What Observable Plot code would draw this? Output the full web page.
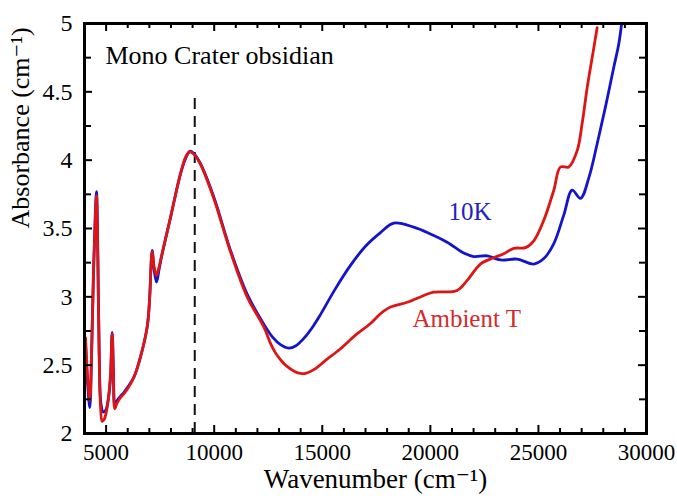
<!DOCTYPE html>
<html>
<head>
<meta charset="utf-8">
<script src="https://cdn.jsdelivr.net/npm/d3@7"></script>
<script src="https://cdn.jsdelivr.net/npm/@observablehq/plot@0.6"></script>
<style>
  html, body { margin: 0; padding: 0; background: #ffffff; }
</style>
</head>
<body>
<div id="chart"></div>
<script>
// ---- data ----
const wavenumber10K = [4050, 4150, 4245, 4330, 4420, 4500, 4555, 4610, 4680, 4760, 4864, 4980, 5100, 5200, 5280, 5340, 5403, 5500, 5650, 5818, 6000, 6281, 6590, 6900, 7007, 7131, 7220, 7331, 7450, 7594, 7978, 8441, 8700, 8872, 9050, 9366, 9982, 10754, 11525, 12295, 12700, 13067, 13437, 13761, 14223, 14600, 14917, 15611, 16305, 16999, 17693, 18309, 19234, 20005, 20776, 21547, 22010, 22626, 23244, 24015, 24786, 25249, 25712, 26175, 26561, 26946, 27331, 27718, 28102, 28486, 28717, 28850];
const absorbance10K = [2.65, 2.35, 2.19, 2.6, 3.2, 3.6, 3.77, 3.4, 2.6, 2.22, 2.157, 2.17, 2.25, 2.4, 2.74, 2.45, 2.21, 2.24, 2.27, 2.30, 2.34, 2.41, 2.56, 2.78, 2.97, 3.34, 3.2, 3.107, 3.2, 3.315, 3.58, 3.90, 4.02, 4.065, 4.05, 3.974, 3.73, 3.34, 3.02, 2.80, 2.705, 2.65, 2.625, 2.64, 2.71, 2.79, 2.87, 3.06, 3.23, 3.37, 3.47, 3.539, 3.51, 3.46, 3.40, 3.32, 3.295, 3.30, 3.27, 3.276, 3.24, 3.28, 3.39, 3.60, 3.78, 3.72, 3.87, 4.12, 4.39, 4.68, 4.85, 5.0];

const wavenumberAmbient = [4050, 4150, 4245, 4330, 4420, 4500, 4555, 4610, 4680, 4740, 4817, 4900, 5000, 5100, 5200, 5280, 5340, 5403, 5500, 5650, 5818, 6000, 6281, 6590, 6900, 7007, 7131, 7220, 7331, 7450, 7594, 7978, 8441, 8700, 8872, 9050, 9366, 9982, 10754, 11525, 12295, 12604, 12836, 13067, 13299, 13761, 13992, 14223, 14686, 15149, 15843, 16536, 17230, 17693, 18156, 18928, 19696, 20159, 21241, 21704, 22319, 22934, 23397, 23860, 24401, 24786, 25248, 25711, 26020, 26404, 26793, 27024, 27255, 27486, 27718];
const absorbanceAmbient = [2.70, 2.40, 2.24, 2.6, 3.2, 3.58, 3.74, 3.35, 2.55, 2.2, 2.089, 2.10, 2.15, 2.25, 2.42, 2.73, 2.42, 2.18, 2.22, 2.26, 2.29, 2.33, 2.41, 2.56, 2.78, 2.97, 3.33, 3.22, 3.156, 3.22, 3.32, 3.58, 3.90, 4.03, 4.06, 4.045, 3.97, 3.72, 3.33, 3.00, 2.78, 2.66, 2.59, 2.54, 2.50, 2.45, 2.44, 2.44, 2.475, 2.535, 2.62, 2.72, 2.805, 2.876, 2.925, 2.96, 3.01, 3.034, 3.047, 3.12, 3.24, 3.286, 3.315, 3.355, 3.36, 3.41, 3.56, 3.78, 3.95, 3.95, 4.07, 4.27, 4.53, 4.75, 4.97];

const xTickLabels = [5000, 10000, 15000, 20000, 25000, 30000];
const yTickLabels = [2, 2.5, 3, 3.5, 4, 4.5, 5];
const xMinorTicks = d3.range(5000, 30000, 1000).filter(d => d % 5000 !== 0);
const yMinorTicks = [2.25, 2.75, 3.25, 3.75, 4.25, 4.75];
const markerWavenumber = [9100];
const markerTop = 4.5;

const seriesLabels = [
  {text: "10K", x: 20840, y: 3.62, color: "#2121c4"},
  {text: "Ambient T", x: 19170, y: 2.838, color: "#d42a2a"}
];

const blue = wavenumber10K.map((x, i) => ({x, y: absorbance10K[i]}));
const red = wavenumberAmbient.map((x, i) => ({x, y: absorbanceAmbient[i]}));

// ---- layout ----
const W = 677, H = 500;
const mL = 84, mR = 31, mT = 23, mB = 67;
const innerW = W - mL - mR, innerH = H - mT - mB;

const chart = Plot.plot({
  width: W,
  height: H,
  marginLeft: mL,
  marginRight: mR,
  marginTop: mT,
  marginBottom: mB,
  style: {fontFamily: "'Liberation Serif', 'DejaVu Serif', serif", fontSize: "23px", color: "black", background: "white"},
  x: {domain: [4000, 30000], label: null},
  y: {domain: [2, 5], label: null},
  marks: [
    // dashed marker
    Plot.ruleX(markerWavenumber, {y1: 2, y2: markerTop, stroke: "#111", strokeWidth: 2, strokeDasharray: "11,7"}),
    // series
    Plot.line(blue, {x: "x", y: "y", stroke: "#1414cc", strokeWidth: 2.8, curve: "catmull-rom"}),
    Plot.line(red, {x: "x", y: "y", stroke: "#dd1515", strokeWidth: 2.8, curve: "catmull-rom"}),
    // inward ticks: bottom & top
    Plot.tickX(xTickLabels, {x: d => d, insetTop: innerH - 8, stroke: "black", strokeWidth: 2}),
    Plot.tickX(xTickLabels, {x: d => d, insetBottom: innerH - 8, stroke: "black", strokeWidth: 2}),
    Plot.tickX(xMinorTicks, {x: d => d, insetTop: innerH - 5, stroke: "black", strokeWidth: 2}),
    Plot.tickX(xMinorTicks, {x: d => d, insetBottom: innerH - 5, stroke: "black", strokeWidth: 2}),
    // inward ticks: left & right
    Plot.tickY(yTickLabels, {y: d => d, insetRight: innerW - 8, stroke: "black", strokeWidth: 2}),
    Plot.tickY(yTickLabels, {y: d => d, insetLeft: innerW - 8, stroke: "black", strokeWidth: 2}),
    Plot.tickY(yMinorTicks, {y: d => d, insetRight: innerW - 7, stroke: "black", strokeWidth: 2}),
    Plot.tickY(yMinorTicks, {y: d => d, insetLeft: innerW - 7, stroke: "black", strokeWidth: 2}),
    // tick labels
    Plot.axisX(xTickLabels, {tickSize: 0, tickPadding: 10, tickFormat: d => String(d), fontSize: 23, label: null}),
    Plot.axisY(yTickLabels, {tickSize: 0, tickPadding: 12, tickFormat: d => String(d), fontSize: 24, label: null}),
    // frame
    Plot.frame({stroke: "black", strokeWidth: 3}),
    // texts
    Plot.text(["Mono Crater obsidian"], {frameAnchor: "top-left", textAnchor: "start", dx: 21, dy: 22.5, fontSize: 26, fill: "black"}),
    Plot.text(seriesLabels, {x: "x", y: "y", text: "text", fill: "color", textAnchor: "start", fontSize: 25}),
    Plot.text(["Wavenumber (cm⁻¹)"], {frameAnchor: "bottom", dx: 10, dy: 54, fontSize: 27, fill: "black"}),
    Plot.text(["Absorbance (cm⁻¹)"], {frameAnchor: "left", rotate: -90, dx: -64, fontSize: 26, fill: "black"})
  ]
});

document.getElementById("chart").appendChild(chart);
</script>
</body>
</html>
